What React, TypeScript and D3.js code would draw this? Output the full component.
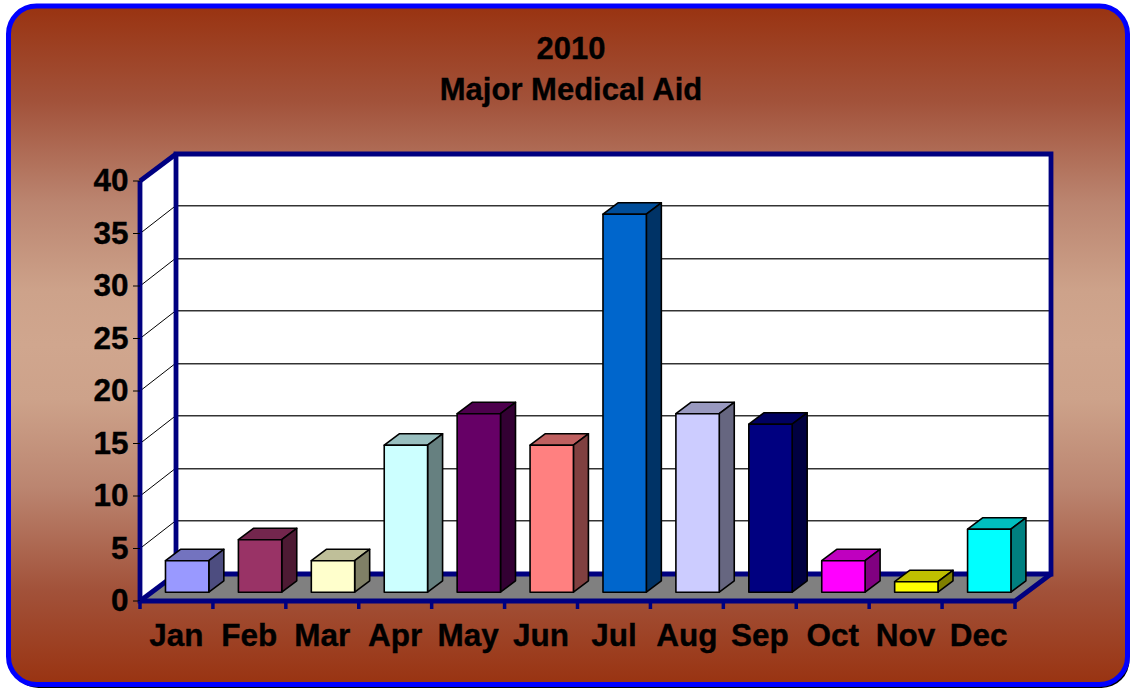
import React from "react";
import * as d3 from "d3";

const months = ["Jan", "Feb", "Mar", "Apr", "May", "Jun", "Jul", "Aug", "Sep", "Oct", "Nov", "Dec"];
const values = [3, 5, 3, 14, 17, 14, 36, 17, 16, 3, 1, 6];
const barColors = ["#9999ff", "#993366", "#ffffcc", "#ccffff", "#660066", "#ff8080", "#0066cc", "#ccccff", "#000080", "#ff00ff", "#ffff00", "#00ffff"];
const yTicks = [0, 5, 10, 15, 20, 25, 30, 35, 40];
const titleLines = ["2010", "Major Medical Aid"];

const W = 1130, H = 689;
const FONT = "'Liberation Sans', Arial, sans-serif";
const NAVY = "#000080";
const left = 140, right = 1015, bottom = 601, top = 181;
const depthX = 36, depthY = -27;
const barDepthX = 15, barDepthY = -11.4;

const x = d3.scaleBand<string>().domain(months).range([left, right]).paddingInner(0.4).paddingOuter(0.2);
const xTick = d3.scaleBand<string>().domain(months).range([left, right]);
const y = d3.scaleLinear().domain([0, 40]).range([bottom, top]);

const shade = (c: string, k: number) => {
  const r = d3.rgb(c);
  return d3.rgb(r.r * k, r.g * k, r.b * k).formatHex();
};
const poly = (pts: [number, number][]) => pts.map((p) => p.join(",")).join(" ");

const textProps = { fontSize: 31.5, fontWeight: "bold", fill: "#000", stroke: "#000", strokeWidth: 0.35 } as const;

export default function App() {
  const frontOffX = (depthX - barDepthX) / 2 + 0.4;
  const frontOffY = (depthY - barDepthY) / 2 - 1;
  return (
    <svg width={W} height={H} style={{ position: "fixed", left: 0, top: 0, background: "#fff" }} fontFamily={FONT}>
      <defs>
        <linearGradient id="bg" x1="0" y1="0" x2="0" y2="1">
          <stop offset="0" stopColor="#993311" />
          <stop offset="0.14" stopColor="#a2523a" />
          <stop offset="0.29" stopColor="#bb8570" />
          <stop offset="0.42" stopColor="#cda28a" />
          <stop offset="0.5" stopColor="#d0a68e" />
          <stop offset="0.58" stopColor="#cda28a" />
          <stop offset="0.71" stopColor="#bb8570" />
          <stop offset="0.86" stopColor="#a2523a" />
          <stop offset="1" stopColor="#993311" />
        </linearGradient>
      </defs>
      <rect x={10.5} y={8} width={1119} height={680} rx={28} fill="#000" />
      <rect x={8.5} y={6} width={1119} height={678.5} rx={28} fill="url(#bg)" stroke="#0000ff" strokeWidth={5} />

      {titleLines.map((t, i) => (
        <text key={t} x={571} y={59 + i * 41} textAnchor="middle" {...textProps} fontSize={31}>{t}</text>
      ))}

      {/* walls */}
      <polygon points={poly([[left, top], [left + depthX, top + depthY], [right + depthX, top + depthY], [right + depthX, bottom + depthY], [left + depthX, bottom + depthY], [left, bottom]])} fill="#fff" />
      <polygon points={poly([[left, bottom], [left + depthX, bottom + depthY], [right + depthX, bottom + depthY], [right, bottom]])} fill="#808080" />

      {/* gridlines */}
      {yTicks.slice(1, -1).map((v) => (
        <g key={v}>
          <line x1={left} y1={y(v)} x2={left + depthX} y2={y(v) + depthY - 1} stroke="#000" strokeWidth={1} />
          <line x1={left + depthX} y1={y(v) + depthY} x2={right + depthX} y2={y(v) + depthY} stroke="#999" strokeWidth={1} shapeRendering="crispEdges" />
          <line x1={left + depthX} y1={y(v) + depthY - 1} x2={right + depthX} y2={y(v) + depthY - 1} stroke="#333" strokeWidth={1} shapeRendering="crispEdges" />
        </g>
      ))}

      {/* frame */}
      <g stroke={NAVY} strokeWidth={4.8} fill="none" strokeLinejoin="miter">
        <polyline points={poly([[left + depthX, bottom + depthY], [left + depthX, top + depthY], [right + depthX, top + depthY], [right + depthX, bottom + depthY], [left + depthX, bottom + depthY]])} />
        <polyline points={poly([[left, top], [left + depthX, top + depthY]])} />
        <polyline points={poly([[left, top], [left, bottom], [right, bottom], [right + depthX, bottom + depthY]])} />
        <line x1={left} y1={bottom} x2={left + depthX} y2={bottom + depthY} />
      </g>

      {/* axis ticks */}
      {yTicks.map((v) => (
        <g key={v}>
          <line x1={133} x2={left} y1={y(v)} y2={y(v)} stroke="#000" strokeWidth={1} />
          <text x={128.5} y={y(v) + 10} textAnchor="end" {...textProps}>{v}</text>
        </g>
      ))}
      {months.map((m, i) => {
        const tx = xTick(m)!;
        return (
          <g key={m}>
            <line x1={tx} x2={tx} y1={bottom} y2={609} stroke={NAVY} strokeWidth={3.5} />
            {i === months.length - 1 && <line x1={right} x2={right} y1={bottom} y2={609} stroke={NAVY} strokeWidth={3.5} />}
            <text x={tx + xTick.bandwidth() / 2} y={646} textAnchor="middle" {...textProps}>{m}</text>
          </g>
        );
      })}

      {/* bars */}
      {months.map((m, i) => {
        const x0 = x(m)! + frontOffX;
        const x1 = x0 + x.bandwidth() - 0.4;
        const yb = bottom + frontOffY;
        const yt = y(values[i]) + frontOffY;
        const c = barColors[i];
        return (
          <g key={m} stroke="#000" strokeWidth={1.6} strokeLinejoin="round">
            <polygon points={poly([[x0, yt], [x0 + barDepthX, yt + barDepthY], [x1 + barDepthX, yt + barDepthY], [x1, yt]])} fill={shade(c, 0.75)} />
            <polygon points={poly([[x1, yt], [x1 + barDepthX, yt + barDepthY], [x1 + barDepthX, yb + barDepthY], [x1, yb]])} fill={shade(c, 0.5)} />
            <rect x={x0} y={yt} width={x1 - x0} height={yb - yt} fill={c} />
          </g>
        );
      })}
    </svg>
  );
}
